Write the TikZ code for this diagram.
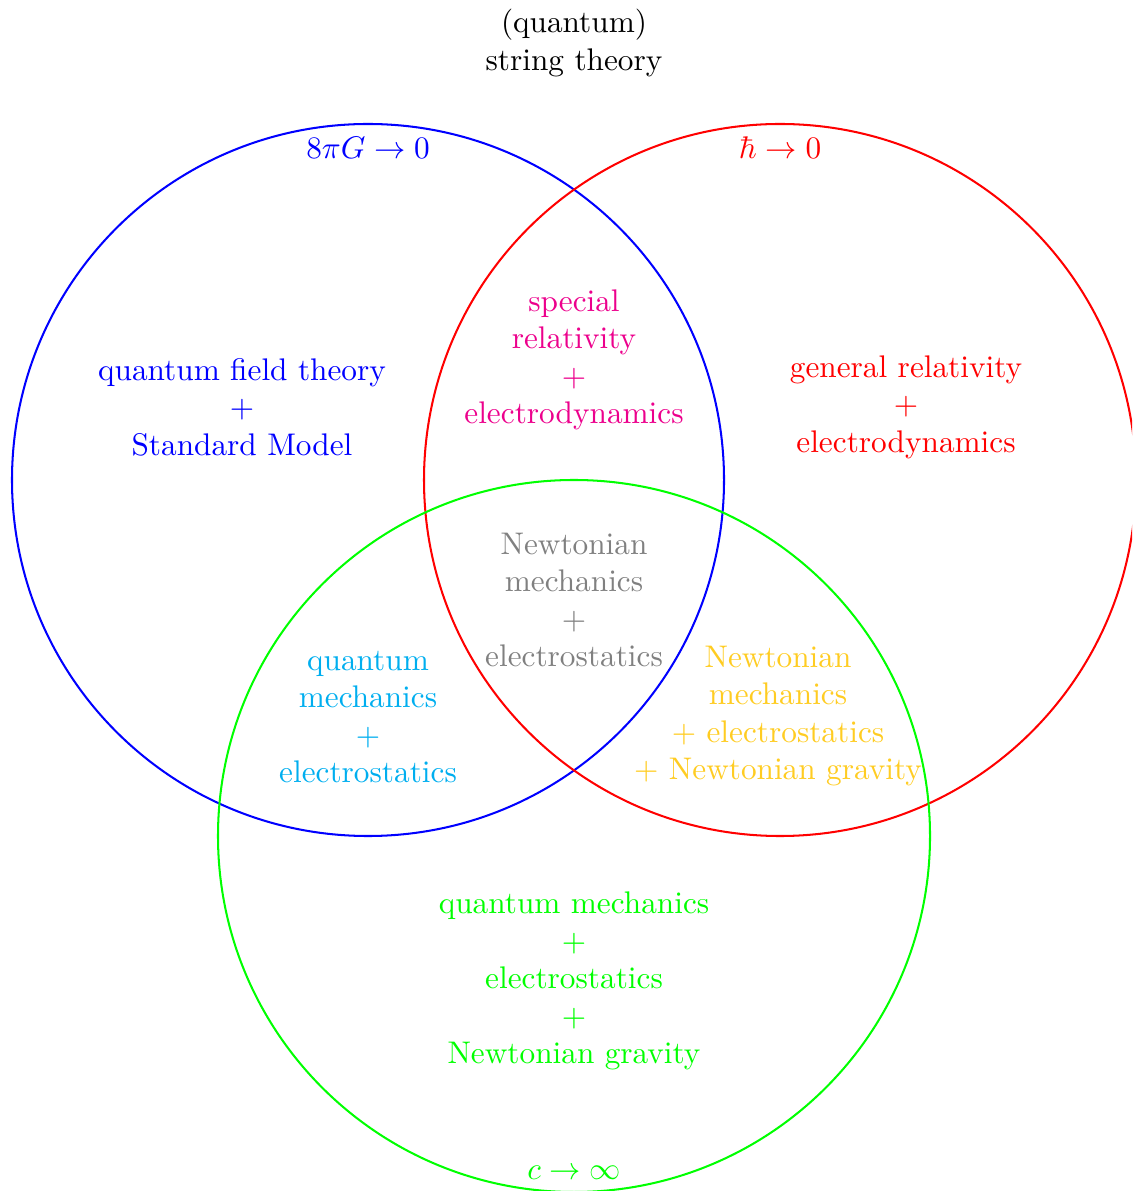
\documentclass[tikz,border=0pt]{standalone}
\usepackage{amsmath}
\definecolor{cmag}{RGB}{236,0,140}
\definecolor{ccyan}{RGB}{0,174,239}
\definecolor{cyel}{RGB}{255,204,34}
\definecolor{cgray}{RGB}{128,128,128}
\definecolor{cgreen}{RGB}{0,255,0}
\tikzset{
  vcircle/.style={line width=0.65pt},
  lbl/.style={align=center, inner sep=0pt}
}
\begin{document}
\begin{tikzpicture}[x=0.31969pt, y=-0.31969pt]
\useasboundingbox (0,0) rectangle (1132,1191);
\clip (0,0) rectangle (1132,1191);
\coordinate (cb) at (368,480);
\coordinate (cr) at (780,480);
\coordinate (cg) at (574,836);
\draw[vcircle, blue] (cb) circle (113.81pt);
\draw[vcircle, red] (cr) circle (113.81pt);
\draw[vcircle, cgreen] (cg) circle (113.81pt);
\node[lbl] (title) at (574,43) {(quantum)\\string theory};
\node[lbl, text=blue] (lb) at (368,148) {$8\pi G\to 0$};
\node[lbl, text=red] (lr) at (780,148) {$\hbar\to 0$};
\node[lbl, text=cgreen] (lg) at (574,1173) {$c\to\infty$};
\node[lbl, text=blue] (qft) at (242,407) {quantum field theory\\+\\Standard Model};
\node[lbl, text=cmag] (sr) at (574,360) {special\\relativity\\+\\electrodynamics};
\node[lbl, text=red] (gr) at (906,407) {general relativity\\+\\electrodynamics};
\node[lbl, text=cgray] (nm) at (574,600) {Newtonian\\mechanics\\+\\electrostatics};
\node[lbl, text=ccyan] (qm) at (368,717) {quantum\\mechanics\\+\\electrostatics};
\node[lbl, text=cyel] (ng) at (778,716) {Newtonian\\mechanics\\+ electrostatics\\+ Newtonian gravity};
\node[lbl, text=cgreen] (qmg) at (574,981) {quantum mechanics\\+\\electrostatics\\+\\Newtonian gravity};
\end{tikzpicture}
\end{document}
